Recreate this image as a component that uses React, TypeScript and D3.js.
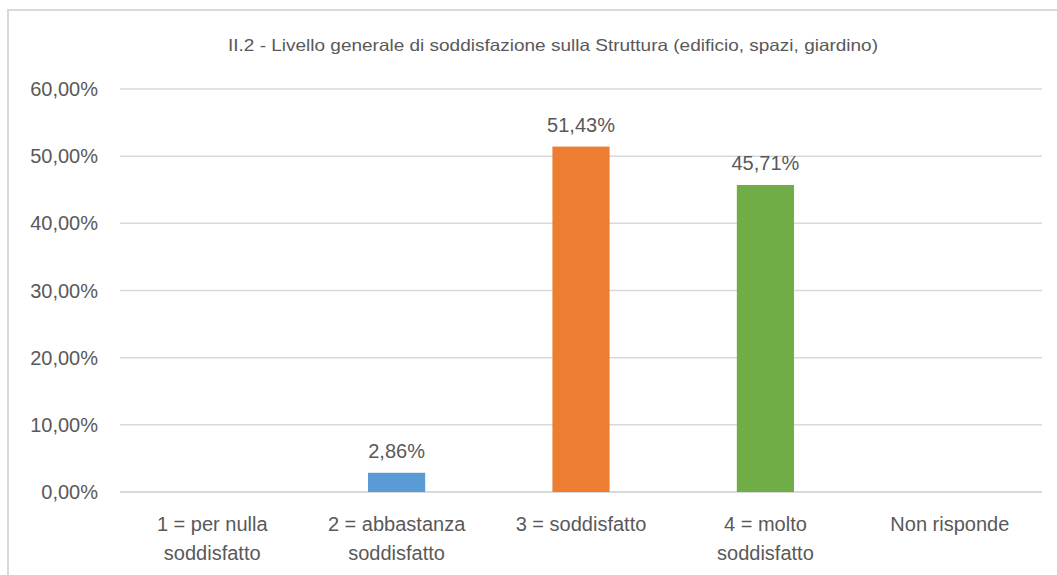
import React, { useEffect } from "react";
import * as d3 from "d3";

const title = "II.2 - Livello generale di soddisfazione sulla Struttura (edificio, spazi, giardino)";
const categories = [
  ["1 = per nulla", "soddisfatto"],
  ["2 = abbastanza", "soddisfatto"],
  ["3 = soddisfatto"],
  ["4 = molto", "soddisfatto"],
  ["Non risponde"],
];
const values = [0, 2.86, 51.43, 45.71, 0];
const barColors = ["#5b9bd5", "#5b9bd5", "#ed7d31", "#70ad47", "#5b9bd5"];
const yTicks = [0, 10, 20, 30, 40, 50, 60];

const W = 1057;
const H = 575;
const FONT = "'Liberation Sans', Arial, sans-serif";
const TEXT = "#595959";

const fmt = (v: number) => v.toFixed(2).replace(".", ",") + "%";

export default function App() {
  useEffect(() => {
    document.body.style.margin = "0";
  }, []);

  const x = d3
    .scaleBand<number>()
    .domain(categories.map((_, i) => i))
    .range([120, 1042])
    .paddingInner(0.69)
    .paddingOuter(0.345);
  const y = d3.scaleLinear().domain([0, 60]).range([492, 89]);

  return (
    <svg width={W} height={H} style={{ display: "block", fontFamily: FONT }}>
      <rect x={0} y={0} width={W} height={H} fill="#ffffff" />
      <rect x={8} y={10} width={W + 20} height={H + 20} fill="none" stroke="#d9d9d9" strokeWidth={2} />
      <text
        x={553}
        y={51}
        textAnchor="middle"
        fontSize={16.5}
        fill={TEXT}
        textLength={650}
        lengthAdjust="spacingAndGlyphs"
      >
        {title}
      </text>
      {yTicks.map((t) => (
        <g key={t}>
          <line x1={120} x2={1042} y1={y(t)} y2={y(t)} stroke="#d9d9d9" strokeWidth={t === 0 ? 2 : 1.5} />
          <text x={98} y={y(t) + 7} textAnchor="end" fontSize={20} fill={TEXT}>
            {fmt(t)}
          </text>
        </g>
      ))}
      {values.map((v, i) =>
        v > 0 ? (
          <g key={i}>
            <rect
              x={x(i)}
              y={y(v)}
              width={x.bandwidth()}
              height={y(0) - y(v)}
              fill={barColors[i]}
            />
            <text
              x={(x(i) as number) + x.bandwidth() / 2}
              y={y(v) - 15}
              textAnchor="middle"
              fontSize={20}
              fill={TEXT}
            >
              {fmt(v)}
            </text>
          </g>
        ) : null
      )}
      {categories.map((lines, i) =>
        lines.map((ln, j) => (
          <text
            key={i + "-" + j}
            x={(x(i) as number) + x.bandwidth() / 2}
            y={531 + j * 29}
            textAnchor="middle"
            fontSize={20}
            fill={TEXT}
          >
            {ln}
          </text>
        ))
      )}
    </svg>
  );
}
